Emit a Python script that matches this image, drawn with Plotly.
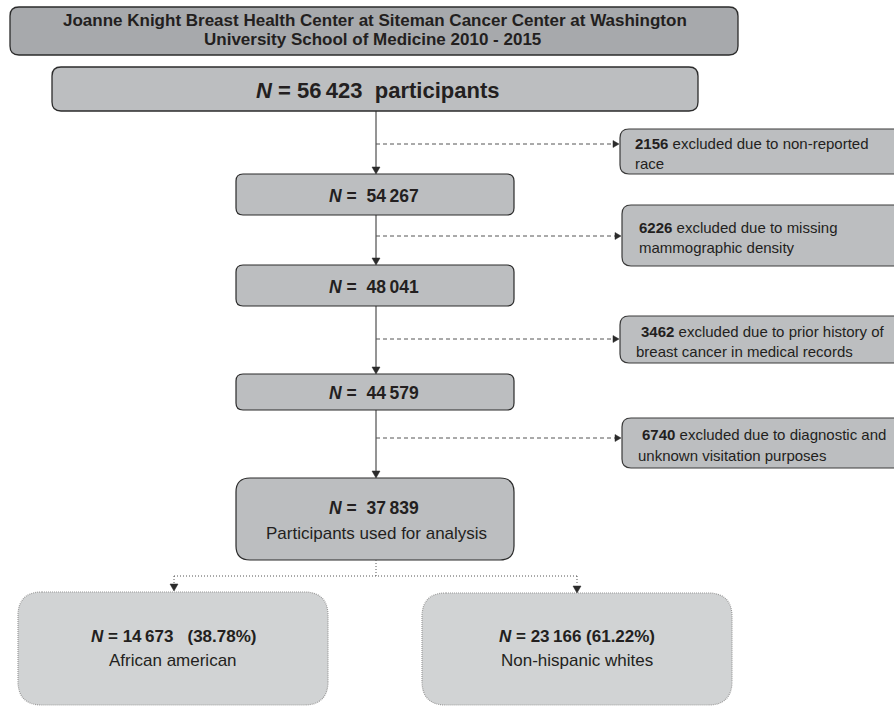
import plotly.graph_objects as go

# ---------------- data ----------------
title_lines = ["Joanne Knight Breast Health Center at Siteman Cancer Center at Washington",
               "University School of Medicine 2010 - 2015"]
total_n = 56423
step_n = [54267, 48041, 44579]
analysis_n = 37839
analysis_label = "Participants used for analysis"
excluded_n = [2156, 6226, 3462, 6740]
excluded_line1 = ["excluded due to non-reported", "excluded due to missing",
                  "excluded due to prior history of", "excluded due to diagnostic and"]
excluded_line2 = ["race", "mammographic density",
                  "breast cancer in medical records", "unknown visitation purposes"]
group_labels = ["African american", "Non-hispanic whites"]
group_n = [14673, 23166]
group_pct = [38.78, 61.22]

# ---------------- style ----------------
FONT = "Liberation Sans, Arial, sans-serif"
TXT = "#231f20"
DARK = "#2b2b2b"
FILL_TITLE = "#a7a9ac"
FILL_BOX = "#bcbec0"
FILL_GROUP = "#d1d3d4"
W, H = 894, 706


def fmt(n):
    return f"{n:,}".replace(",", "\u2009")


def rrect(x0, y0, x1, y1, r):
    return (f"M {x0+r},{y0} L {x1-r},{y0} Q {x1},{y0} {x1},{y0+r} "
            f"L {x1},{y1-r} Q {x1},{y1} {x1-r},{y1} L {x0+r},{y1} "
            f"Q {x0},{y1} {x0},{y1-r} L {x0},{y0+r} Q {x0},{y0} {x0+r},{y0} Z")


shapes = []
annotations = []


def box(x0, y0, x1, y1, r, fill, line_color=DARK, width=1.2, dash="solid"):
    shapes.append(dict(type="path", path=rrect(x0, y0, x1, y1, r), xref="x", yref="y",
                       fillcolor=fill, line=dict(color=line_color, width=width, dash=dash),
                       layer="below"))


def line(x0, y0, x1, y1, color=DARK, width=1, dash="solid"):
    shapes.append(dict(type="line", x0=x0, y0=y0, x1=x1, y1=y1, xref="x", yref="y",
                       line=dict(color=color, width=width, dash=dash)))


def tri_down(x, y, s=4, color=DARK):
    shapes.append(dict(type="path", path=f"M {x-s},{y-7} L {x+s},{y-7} L {x},{y} Z",
                       xref="x", yref="y", fillcolor=color, line=dict(color=color, width=0.5)))


def tri_right(x, y, s=3.5, color=DARK):
    shapes.append(dict(type="path", path=f"M {x-6},{y-s} L {x-6},{y+s} L {x},{y} Z",
                       xref="x", yref="y", fillcolor=color, line=dict(color=color, width=0.5)))


def text(x, y, t, size, anchor="center"):
    annotations.append(dict(x=x, y=y, xref="x", yref="y", text=t, showarrow=False,
                            xanchor=anchor, yanchor="middle",
                            font=dict(family=FONT, size=size, color=TXT)))


CX = 376

# title box
box(10, 7, 738, 55, 9, FILL_TITLE, width=1.3)
text(375, 20, f"<b>{title_lines[0]}</b>", 17)
text(372, 39, f"<b>{title_lines[1]}</b>", 17)

# total box
box(52, 67, 698, 111, 9, FILL_BOX, width=1.3)
text(377, 90, f"<b><i>N</i> = {fmt(total_n)}\u00a0 participants</b>", 22)

# step boxes
step_y = [(174, 215), (265, 306), (374, 410)]
for (y0, y1), n in zip(step_y, step_n):
    box(236, y0, 514, y1, 7, FILL_BOX)
    text(CX - 2, (y0 + y1) / 2 + 1, f"<b><i>N</i> = \u00a0{fmt(n)}</b>", 17.5)

# analysis box
box(236, 478, 514, 560, 14, FILL_BOX)
text(CX - 2, 508, f"<b><i>N</i> = \u00a0{fmt(analysis_n)}</b>", 17.5)
text(CX, 533, analysis_label, 17)

# vertical solid arrows
v_segments = [(111, 174), (215, 265), (306, 374), (410, 478)]
for y0, y1 in v_segments:
    line(CX, y0, CX, y1 - 6)
    tri_down(CX, y1)

# exclusion boxes
excl_box = [(620, 129, 174), (622, 205, 266), (620, 316, 363), (622, 418, 468)]
dash_y = [144, 236, 339, 438]
line_y = [(143, 163), (227, 247), (331, 351), (434, 455)]
txt_x = [(633, 633), (637, 637), (639, 634), (640, 636)]
for i in range(4):
    x0, y0, y1 = excl_box[i]
    box(x0, y0, 915, y1, 9, FILL_BOX, line_color="#3a3a3a", width=1.2)
    line(CX, dash_y[i], x0 - 6, dash_y[i], color="#555555", width=1, dash="4px,3px")
    tri_right(x0 - 1, dash_y[i])
    text(txt_x[i][0], line_y[i][0], f"<b>{excluded_n[i]}</b> {excluded_line1[i]}", 15, "left")
    text(txt_x[i][1], line_y[i][1], excluded_line2[i], 15, "left")

# dotted split to groups
DOT = "#555555"
line(CX, 560, CX, 576, color=DOT, width=1, dash="1px,2px")
line(174, 576, 577, 576, color=DOT, width=1, dash="1px,2px")
line(174, 576, 174, 584, color=DOT, width=1, dash="1px,2px")
line(577, 576, 577, 585, color=DOT, width=1, dash="1px,2px")
tri_down(174, 591)
tri_down(577, 593)

# group boxes
group_box = [(18, 592, 328), (422, 593, 732)]
for i in range(2):
    x0, y0, x1 = group_box[i]
    cx = (x0 + x1) / 2
    box(x0, y0, x1, 705, 24, FILL_GROUP, line_color="#9a9a9a", width=1.2, dash="1px,1px")
    sep = "\u00a0\u00a0\u00a0" if i == 0 else " "
    text(cx, 636, f"<b><i>N</i> = {fmt(group_n[i])}{sep}({group_pct[i]:.2f}%)</b>", 17)
    text(cx, 660, group_labels[i], 17)

fig = go.Figure()
fig.update_layout(
    width=W, height=H, margin=dict(l=0, r=0, t=0, b=0),
    paper_bgcolor="white", plot_bgcolor="white",
    xaxis=dict(range=[0, W], visible=False, fixedrange=True),
    yaxis=dict(range=[H, 0], visible=False, fixedrange=True),
    shapes=shapes, annotations=annotations, showlegend=False,
)
fig.write_html("out.html", config={"displayModeBar": False},
               post_script="document.body.style.margin='0';")
